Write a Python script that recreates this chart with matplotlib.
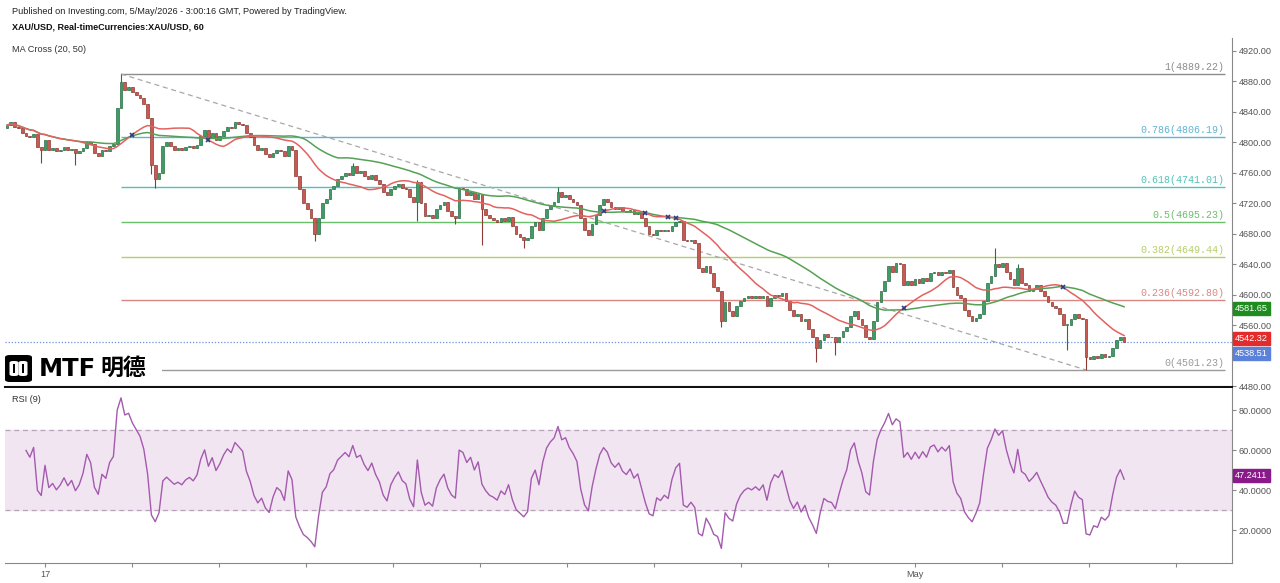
import numpy as np
import pandas as pd
import matplotlib
matplotlib.use("Agg")
import matplotlib.pyplot as plt
from matplotlib.patches import Rectangle, FancyBboxPatch

plt.rcParams['font.family'] = ['Liberation Sans', 'DejaVu Sans']

W, H = 1280, 583

# hourly closes XAU/USD (bar 0 = far left)
first_open = 4818
closes = [
    4822, 4826, 4820, 4818, 4812, 4808, 4806, 4810, 4793, 4790,
    4803, 4790, 4792, 4788, 4790, 4793, 4789, 4791, 4786, 4788,
    4792, 4800, 4797, 4786, 4782, 4790, 4788, 4795, 4798, 4845,
    4879, 4868, 4872, 4866, 4862, 4858, 4850, 4831, 4770, 4752,
    4760, 4795, 4800, 4795, 4790, 4792, 4789, 4793, 4795, 4792,
    4796, 4808, 4816, 4805, 4812, 4803, 4808, 4815, 4820, 4818,
    4826, 4824, 4822, 4812, 4806, 4796, 4790, 4792, 4784, 4780,
    4786, 4790, 4788, 4782, 4795, 4790, 4755, 4738, 4720, 4712,
    4700, 4680, 4700, 4720, 4725, 4738, 4742, 4752, 4756, 4760,
    4757, 4768, 4760, 4762, 4756, 4752, 4757, 4750, 4745, 4735,
    4730, 4738, 4742, 4745, 4740, 4738, 4728, 4722, 4748, 4720,
    4703, 4705, 4700, 4712, 4718, 4722, 4710, 4703, 4700, 4740,
    4738, 4730, 4735, 4725, 4732, 4712, 4705, 4700, 4698, 4695,
    4700, 4697, 4702, 4690, 4680, 4676, 4672, 4674, 4690, 4695,
    4685, 4700, 4712, 4718, 4722, 4735, 4728, 4730, 4725, 4722,
    4718, 4700, 4685, 4678, 4692, 4705, 4718, 4725, 4722, 4715,
    4712, 4715, 4710, 4708, 4711, 4706, 4708, 4700, 4690, 4680,
    4678, 4685, 4683, 4685, 4683, 4690, 4695, 4697, 4672, 4670,
    4672, 4668, 4635, 4630, 4638, 4628, 4610, 4605, 4565, 4590,
    4578, 4572, 4585, 4592, 4596, 4598, 4596, 4598, 4595, 4598,
    4585, 4595, 4600, 4598, 4602, 4592, 4580, 4572, 4575, 4565,
    4568, 4555, 4545, 4530, 4540, 4548, 4545, 4544, 4538, 4545,
    4552, 4558, 4572, 4578, 4568, 4560, 4545, 4542, 4565, 4590,
    4605, 4618, 4638, 4630, 4642, 4640, 4612, 4618, 4612, 4620,
    4615, 4622, 4618, 4628, 4630, 4626, 4630, 4628, 4632, 4610,
    4600, 4595, 4580, 4572, 4566, 4570, 4575, 4592, 4615, 4625,
    4640, 4636, 4642, 4630, 4620, 4612, 4635, 4615, 4612, 4605,
    4608, 4612, 4605, 4598, 4590, 4585, 4582, 4575, 4560, 4560,
    4568, 4575, 4570, 4568, 4518, 4515, 4520, 4517, 4522, 4518,
    4520, 4530, 4540, 4545, 4538.51,
]
# longer wicks visible on the chart
wick_hi = {30: 4889.22, 91: 4772, 108: 4750, 145: 4741, 260: 4661, 266: 4640}
wick_lo = {9: 4773, 18: 4770, 38: 4758, 39: 4740, 81: 4670, 108: 4696, 118: 4692,
           125: 4665, 136: 4661, 188: 4557, 213: 4512, 218: 4521, 279: 4527, 284: 4501.23}

fib_ratios = [1, 0.786, 0.618, 0.5, 0.382, 0.236, 0]
fib_prices = [4889.22, 4806.19, 4741.01, 4695.23, 4649.44, 4592.80, 4501.23]
fib_colors = ['#8c8c8c', '#5fb3d3', '#4fc3b8', '#6abf69', '#b5cd6b', '#d98783', '#9a9a9a']
fib_start, fib_end = 30, 284

last_price = 4538.51
ma20_last = 4542.32
ma50_last = 4581.65
rsi_last = 47.2411

price_ticks = [4480, 4520, 4560, 4600, 4640, 4680, 4720, 4760, 4800, 4840, 4880, 4920]
hidden_ticks = [4520]  # sits under the last-price tag
rsi_ticks = [20, 40, 60, 80]
day_labels = ['17', '', '', '', '', '', '', '', '', '', 'May', '', '', '']

up_col, up_edge = '#3f9c66', '#2b7148'
dn_col, dn_edge = '#c85a52', '#8e3b35'


def fx(px):
    return px / W


def fy(py):
    return 1 - py / H


s = pd.Series(closes, dtype=float)
n = len(s)
idx = np.arange(n)
opens = np.array([first_open] + closes[:-1], dtype=float)
cl = s.values
highs = np.maximum(opens, cl)
lows = np.minimum(opens, cl)
for k, v in wick_hi.items():
    highs[k] = max(highs[k], v)
for k, v in wick_lo.items():
    lows[k] = min(lows[k], v)

ma20 = s.rolling(20, min_periods=1).mean()
ma50 = s.rolling(50, min_periods=1).mean()

delta = s.diff()
gain = delta.clip(lower=0)
loss = -delta.clip(upper=0)
rs = (gain.ewm(alpha=1 / 9, adjust=False, min_periods=5).mean()
      / loss.ewm(alpha=1 / 9, adjust=False, min_periods=5).mean())
rsi = 100 - 100 / (1 + rs)

fig = plt.figure(figsize=(W / 100, H / 100), dpi=100)
fig.patch.set_facecolor('white')

ax = fig.add_axes([fx(5), fy(387), (1232 - 5) / W, (387 - 38) / H])
ax2 = fig.add_axes([fx(5), fy(563), (1232 - 5) / W, (563 - 388) / H])
xmin, xmax = -0.53, 322.4

# ---- price pane
for i, p in enumerate(fib_prices):
    ax.hlines(p, fib_start, 320.5, color=fib_colors[i], lw=1.0, zorder=1)
    ax.text(320.5, p + 2.5, f"{fib_ratios[i]:g}({p:.2f})", ha='right', va='bottom',
            color=fib_colors[i], fontsize=7.2, family='Liberation Mono', zorder=2)

ax.plot([fib_start, fib_end], [fib_prices[0], fib_prices[-1]], color='#a8a8a8',
        lw=0.9, ls=(0, (4, 3)), zorder=1)
ax.axhline(last_price, color='#6d8fd8', lw=0.9, ls=(0, (1, 1.5)), zorder=1)

up = cl >= opens
ax.vlines(idx, lows, highs, colors=np.where(up, up_edge, dn_edge), lw=0.8, zorder=3)
body_h = np.maximum(np.abs(cl - opens), 0.9)
ax.bar(idx[up], body_h[up], bottom=np.minimum(opens, cl)[up], width=0.7,
       color=up_col, edgecolor=up_edge, lw=0.5, zorder=4)
ax.bar(idx[~up], body_h[~up], bottom=np.minimum(opens, cl)[~up], width=0.7,
       color=dn_col, edgecolor=dn_edge, lw=0.5, zorder=4)

ax.plot(idx, ma50, color='#55a155', lw=1.1, zorder=5)
ax.plot(idx, ma20, color='#e2625f', lw=1.1, zorder=5)

diff = (ma20 - ma50).values
cross = [i for i in range(21, n) if np.sign(diff[i]) != np.sign(diff[i - 1])]
ax.plot(cross, ma20.values[cross], 'x', color='#2c3e80', ms=3.5, mew=1.2, zorder=6)

ax.set_xlim(xmin, xmax)
ax.set_ylim(4478.9, 4936.4)
ax.yaxis.tick_right()
ax.set_yticks(price_ticks)
ax.set_yticklabels(['' if v in hidden_ticks else f"{v:.2f}" for v in price_ticks])
ax.set_xticks([])
ax.tick_params(axis='y', direction='out', length=3, color='#888888',
               labelcolor='#555555', labelsize=6.6, pad=2)
for sp in ['top', 'left']:
    ax.spines[sp].set_visible(False)
ax.spines['right'].set_color('#888888')
ax.spines['bottom'].set_color('#111111')
ax.spines['bottom'].set_linewidth(1.5)

tags = [(ma50_last, '#1e8c1e', 0), (ma20_last, '#e32b2b', 0), (last_price, '#5b82d8', -12)]
for val, col, dy in tags:
    ax.annotate(f"{val:.2f}", xy=(1, val), xycoords=('axes fraction', 'data'),
                xytext=(3, dy), textcoords='offset pixels', ha='left', va='center',
                color='white', fontsize=6.6, annotation_clip=False, zorder=10,
                bbox=dict(boxstyle='square,pad=0.25', fc=col, ec=col))

# ---- RSI pane
ax2.axhspan(30, 70, color='#f2e5f2', zorder=0)
ax2.axhline(70, color='#b8a4b8', lw=0.9, ls=(0, (4, 3)))
ax2.axhline(30, color='#b8a4b8', lw=0.9, ls=(0, (4, 3)))
ax2.plot(idx, rsi, color='#a45aae', lw=1.0, zorder=3)
ax2.set_xlim(xmin, xmax)
ax2.set_ylim(3.5, 91)
ax2.yaxis.tick_right()
ax2.set_yticks(rsi_ticks)
ax2.set_yticklabels([f"{v:.4f}" for v in rsi_ticks])
day_pos = [10 + 22.9 * k for k in range(len(day_labels))]
ax2.set_xticks(day_pos)
ax2.set_xticklabels(day_labels)
ax2.tick_params(direction='out', length=3, color='#888888',
                labelcolor='#555555', labelsize=6.6, pad=2)
for sp in ['top', 'left']:
    ax2.spines[sp].set_visible(False)
ax2.spines['right'].set_color('#888888')
ax2.spines['bottom'].set_color('#888888')
ax2.annotate(f"{rsi_last:.4f}", xy=(1, rsi_last), xycoords=('axes fraction', 'data'),
             xytext=(3, 0), textcoords='offset pixels', ha='left', va='center',
             color='white', fontsize=6.6, annotation_clip=False, zorder=10,
             bbox=dict(boxstyle='square,pad=0.25', fc='#8a1a8a', ec='#8a1a8a'))

# ---- header texts
fig.text(fx(12), fy(11), "Published on Investing.com, 5/May/2026 - 3:00:16 GMT, Powered by TradingView.",
         fontsize=6.6, va='center', color='#222222')
fig.text(fx(12), fy(27), "XAU/USD, Real-timeCurrencies:XAU/USD, 60",
         fontsize=6.5, va='center', weight='bold', color='#111111')
fig.text(fx(12), fy(49), "MA Cross (20, 50)", fontsize=6.6, va='center', color='#333333')
fig.text(fx(12), fy(399), "RSI (9)", fontsize=6.6, va='center', color='#333333')

# ---- logo
fig.add_artist(Rectangle((0, fy(385)), fx(162), (385 - 351) / H, transform=fig.transFigure,
                         fc='white', ec='none', zorder=5))
fig.add_artist(FancyBboxPatch((fx(5), fy(382)), fx(27), 27 / H, boxstyle='round,pad=0,rounding_size=0.004',
                              transform=fig.transFigure, fc='black', ec='none', zorder=6))
for bx in [9.5, 18.5]:
    fig.add_artist(FancyBboxPatch((fx(bx), fy(376)), fx(9), 15 / H,
                                  boxstyle='round,pad=0,rounding_size=0.003',
                                  transform=fig.transFigure, fc='white', ec='none', zorder=7))
    fig.add_artist(Rectangle((fx(bx + 3.5), fy(373)), fx(2), 9 / H, transform=fig.transFigure,
                             fc='black', ec='none', zorder=8))
fig.text(fx(39), fy(368.5), "MTF", fontsize=17.5, weight='bold', family='DejaVu Sans',
         va='center', color='black', zorder=9)
fig.text(fx(100), fy(368.5), "明德", fontsize=16.5, weight='bold', family=['Noto Sans CJK SC'],
         va='center', color='black', zorder=9)

fig.savefig('out.png', dpi=100, facecolor='white')
